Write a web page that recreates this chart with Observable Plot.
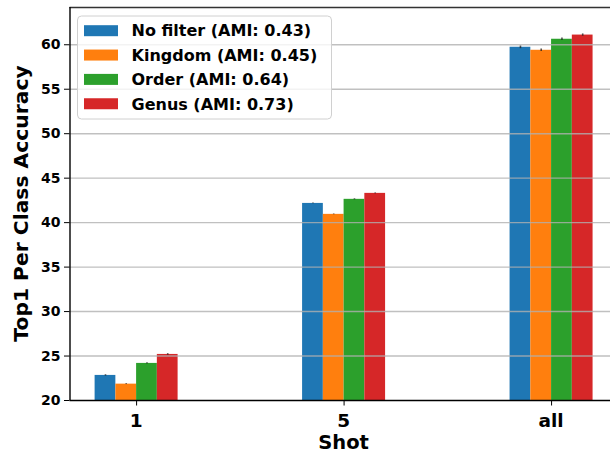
<!DOCTYPE html>
<html><head><meta charset="utf-8">
<script src="https://cdn.jsdelivr.net/npm/d3@7"></script>
<script src="https://cdn.jsdelivr.net/npm/@observablehq/plot@0.6"></script>
<style>body{margin:0;background:#fff} svg{display:block}</style>
</head><body><div id="chart"></div>
<script>
const shots = ["1", "5", "all"];
const series = ["No filter (AMI: 0.43)", "Kingdom (AMI: 0.45)", "Order (AMI: 0.64)", "Genus (AMI: 0.73)"];
const colors = ["#1f77b4", "#ff7f0e", "#2ca02c", "#d62728"];
const noFilter = [22.82, 42.16, 59.72];
const kingdom  = [21.84, 40.93, 59.38];
const order    = [24.17, 42.62, 60.62];
const genus    = [25.18, 43.29, 61.09];
const errNoFilter = [0.08, 0.04, 0.16];
const errKingdom  = [0.05, 0.04, 0.15];
const errOrder    = [0.07, 0.06, 0.15];
const errGenus    = [0.09, 0.05, 0.13];
const yTicks = [20, 25, 30, 35, 40, 45, 50, 55, 60];
const xLabel = "Shot";
const yLabel = "Top1 Per Class Accuracy";

const values = [noFilter, kingdom, order, genus];
const errs = [errNoFilter, errKingdom, errOrder, errGenus];
const barW = 0.1;
const rows = [];
series.forEach((s, si) => {
  shots.forEach((sh, i) => {
    const c = i + (si - 1.5) * barW;
    rows.push({series: s, shot: sh, x1: c - barW / 2, x2: c + barW / 2, xc: c, y: values[si][i], e: errs[si][i]});
  });
});

const W = 610, H = 453;
const font = "DejaVu Sans";
const xMin = -0.321, xMax = 2.284, yMin = 20, yMax = 64.19;
const plot = Plot.plot({
  width: W, height: H,
  marginLeft: 69.5, marginRight: 0, marginTop: 7, marginBottom: 53,
  style: {fontFamily: font, background: "white"},
  x: {type: "linear", domain: [xMin, xMax], axis: null},
  y: {domain: [yMin, yMax], axis: null},
  color: {domain: series, range: colors},
  marks: [
    Plot.rectY(rows, {x1: "x1", x2: "x2", y1: yMin, y2: "y", fill: "series"}),
    Plot.ruleX(rows, {x: "xc", y1: d => d.y - d.e, y2: d => d.y + d.e, stroke: "#222", strokeWidth: 1.6, strokeOpacity: 0.75}),
    Plot.ruleY(yTicks.slice(1), {stroke: "#b0b0b0", strokeWidth: 1.4, strokeOpacity: 0.8}),
    Plot.axisY(yTicks, {tickSize: 5.5, tickFormat: () => "", label: null, stroke: "black"}),
    Plot.axisX([0, 1, 2], {tickSize: 5.5, tickFormat: () => "", label: null, stroke: "black"}),
    Plot.ruleY([yMin], {stroke: "black", strokeWidth: 1.4}),
    Plot.ruleY([yMax], {stroke: "#333", strokeWidth: 1.4}),
    Plot.ruleX([xMin], {stroke: "black", strokeWidth: 1.4})
  ]
});
document.getElementById("chart").appendChild(plot);

const svg = d3.select(plot);
const xs = plot.scale("x"), ys = plot.scale("y");
const tg = svg.append("g").attr("font-family", font).attr("font-weight", "bold").attr("fill", "black");
// y tick labels
yTicks.forEach(t => {
  tg.append("text").attr("x", xs.apply(xMin) - 9).attr("y", ys.apply(t)).attr("dy", "0.36em")
    .attr("text-anchor", "end").attr("font-size", 14).attr("font-weight", "bold").text(String(t));
});
// x tick labels
shots.forEach((s, i) => {
  tg.append("text").attr("x", xs.apply(i)).attr("y", ys.apply(yMin) + 27)
    .attr("text-anchor", "middle").attr("font-size", 18.5).attr("font-weight", "bold").text(s);
});
// axis labels
tg.append("text").attr("x", xs.apply(1)).attr("y", 449)
  .attr("text-anchor", "middle").attr("font-size", 19.5).text(xLabel);
tg.append("text")
  .attr("transform", `translate(27.5,${(ys.apply(yMin) + ys.apply(yMax)) / 2}) rotate(-90)`)
  .attr("text-anchor", "middle").attr("font-size", 20.3).text(yLabel);

// legend
const lg = svg.append("g").attr("text-anchor", "start");
lg.append("rect").attr("x", 77.5).attr("y", 16).attr("width", 254).attr("height", 103).attr("rx", 4)
  .attr("fill", "white").attr("fill-opacity", 0.8).attr("stroke", "#d0d0d0").attr("stroke-width", 1);
series.forEach((s, i) => {
  const cy = 30.7 + i * 24.35;
  lg.append("rect").attr("x", 84).attr("y", cy - 5.5).attr("width", 34).attr("height", 11).attr("fill", colors[i]);
  lg.append("text").attr("x", 131.5).attr("y", cy).attr("dy", "0.36em").attr("text-anchor", "start")
    .attr("font-family", font).attr("font-weight", "bold").attr("font-size", 16)
    .attr("fill", "black").text(s);
});
</script>
</body></html>
